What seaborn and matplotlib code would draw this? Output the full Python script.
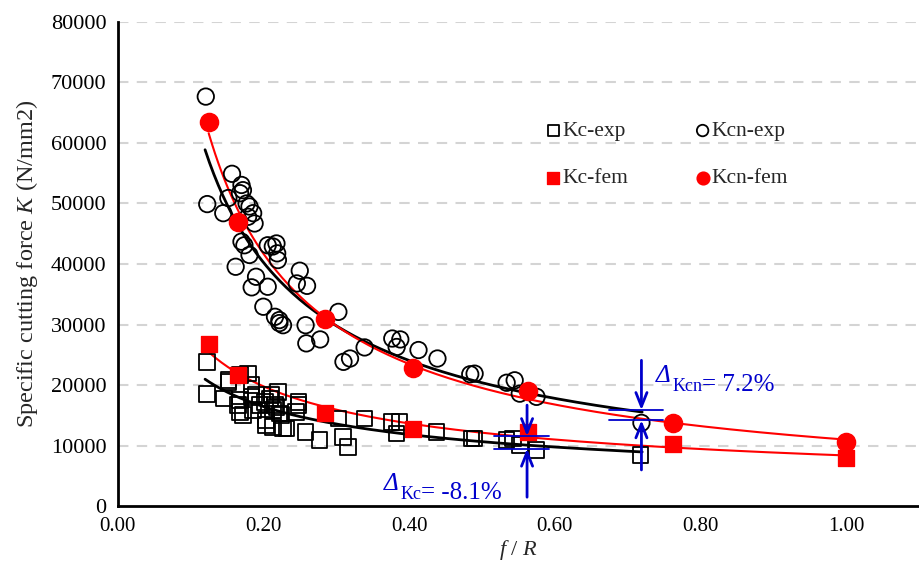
import numpy as np
import pandas as pd
import matplotlib
matplotlib.use("Agg")
import matplotlib.pyplot as plt
import seaborn as sns

# Kcn experimental (f/R, K)
kcn_exp_x = [0.121, 0.123, 0.145, 0.152, 0.157, 0.162, 0.168, 0.170, 0.172, 0.170,
             0.174, 0.177, 0.179, 0.181, 0.181, 0.184, 0.186, 0.188, 0.190, 0.200,
             0.206, 0.206, 0.213, 0.216, 0.218, 0.219, 0.220, 0.222, 0.222, 0.227,
             0.246, 0.250, 0.258, 0.259, 0.260, 0.278, 0.303, 0.310, 0.319, 0.339,
             0.377, 0.383, 0.388, 0.413, 0.439, 0.484, 0.490, 0.534, 0.545, 0.552,
             0.575, 0.719]
kcn_exp_k = [67650, 49900, 48400, 50900, 54900, 39550, 51700, 53060, 52200, 43700,
             43100, 50000, 47800, 49500, 41500, 36150, 48400, 46700, 37900, 32950,
             43100, 36250, 42900, 31290, 43400, 41770, 40660, 30740, 30250, 29900,
             36800, 38900, 29900, 26900, 36400, 27550, 32100, 23850, 24400, 26230,
             27700, 26300, 27550, 25800, 24400, 21800, 21900, 20400, 20800, 18600,
             18070, 13770]

# Kc experimental
kc_exp_x = [0.123, 0.123, 0.146, 0.152, 0.152, 0.165, 0.168, 0.168, 0.168, 0.172,
            0.179, 0.184, 0.184, 0.186, 0.190, 0.195, 0.202, 0.204, 0.204, 0.209,
            0.211, 0.213, 0.213, 0.216, 0.218, 0.220, 0.222, 0.225, 0.227, 0.232,
            0.245, 0.248, 0.248, 0.258, 0.277, 0.303, 0.309, 0.316, 0.339, 0.376,
            0.383, 0.387, 0.438, 0.486, 0.490, 0.534, 0.543, 0.552, 0.575, 0.718]
kc_exp_k = [23850, 18500, 17800, 20550, 20830, 16690, 21650, 17520, 15590, 15040,
            21930, 20000, 18070, 15870, 18350, 16690, 17240, 13390, 14210, 17800,
            18350, 15870, 13110, 16690, 16400, 18900, 15320, 15040, 12840, 12840,
            15590, 17240, 16690, 12280, 10900, 14500, 11450, 9800, 14500, 13940,
            12010, 13940, 12280, 11190, 11190, 10900, 11190, 10080, 9250, 8430]

# FEM results
fem_x = [0.125, 0.165, 0.285, 0.405, 0.563, 0.763, 1.000]
kcn_fem_k = [63400, 47000, 30860, 22800, 19000, 13830, 10630]
kc_fem_k = [26780, 21650, 15320, 12840, 12280, 10250, 8050]

exp_range = (0.12, 0.72)
fem_range = (0.125, 1.0)


def power_fit(x, y, lo, hi):
    b, a = np.polyfit(np.log(x), np.log(y), 1)
    xs = np.linspace(lo, hi, 200)
    return pd.DataFrame({"x": xs, "y": np.exp(a) * xs ** b})


sns.set_style("white")
plt.rcParams["font.family"] = ["Liberation Serif", "DejaVu Serif"]
plt.rcParams["mathtext.fontset"] = "custom"
plt.rcParams["mathtext.rm"] = "Liberation Serif"
plt.rcParams["mathtext.it"] = "Liberation Serif:italic"

fig, ax = plt.subplots(figsize=(9.19, 5.74), dpi=100)
fig.subplots_adjust(left=0.128, right=1.0, bottom=0.118, top=0.962)

for yv in range(10000, 80001, 10000):
    ax.axhline(yv, color="#d4d4d4", lw=1.5, ls=(0, (5, 4)), zorder=0)

# trend lines
sns.lineplot(data=power_fit(kcn_exp_x, kcn_exp_k, *exp_range), x="x", y="y",
             color="black", lw=2, ax=ax, zorder=2)
sns.lineplot(data=power_fit(kc_exp_x, kc_exp_k, *exp_range), x="x", y="y",
             color="black", lw=2, ax=ax, zorder=2)
sns.lineplot(data=power_fit(fem_x, kcn_fem_k, *fem_range), x="x", y="y",
             color="red", lw=1.5, ax=ax, zorder=3)
sns.lineplot(data=power_fit(fem_x, kc_fem_k, *fem_range), x="x", y="y",
             color="red", lw=1.5, ax=ax, zorder=3)

sns.scatterplot(x=kc_exp_x, y=kc_exp_k, marker="s", s=125, facecolor="none",
                edgecolor="black", linewidth=1.3, ax=ax, zorder=4, label="Kc-exp")
sns.scatterplot(x=kcn_exp_x, y=kcn_exp_k, marker="o", s=140, facecolor="none",
                edgecolor="black", linewidth=1.3, ax=ax, zorder=4, label="Kcn-exp")
sns.scatterplot(x=fem_x, y=kc_fem_k, marker="s", s=140, color="red",
                edgecolor="red", ax=ax, zorder=5, label="Kc-fem")
sns.scatterplot(x=fem_x, y=kcn_fem_k, marker="o", s=170, color="red",
                edgecolor="red", ax=ax, zorder=5, label="Kcn-fem")

# difference annotations
blue = "#0000cc"
arrow = dict(arrowstyle="->,head_length=1.0,head_width=0.4", color=blue, lw=2,
             shrinkA=0, shrinkB=0)
for xa, top, bot, hi, lo in [(0.719, 24100, 6000, 15870, 14210),
                             (0.562, 16700, 1500, 11570, 9530)]:
    ax.annotate("", xy=(xa, hi), xytext=(xa, top), arrowprops=arrow, zorder=6)
    ax.annotate("", xy=(xa, lo), xytext=(xa, bot), arrowprops=arrow, zorder=6)
    ax.plot([xa - 0.045, xa + 0.03], [hi, hi], color=blue, lw=1.3, zorder=6)
    ax.plot([xa - 0.045, xa + 0.03], [lo, lo], color=blue, lw=1.3, zorder=6)


def delta_label(x, y, sub, rest):
    t1 = ax.text(x, y, "Δ", color=blue, fontsize=18, fontstyle="italic",
                 va="baseline", ha="left")
    t2 = ax.annotate(sub, xy=(1, 0), xycoords=t1, xytext=(1, -3),
                     textcoords="offset points", color=blue, fontsize=13,
                     va="baseline", ha="left")
    ax.annotate(rest, xy=(1, 0), xycoords=t2, xytext=(0, 3),
                textcoords="offset points", color=blue, fontsize=18,
                va="baseline", ha="left")


delta_label(0.739, 20600, "Kcn", "= 7.2%")
delta_label(0.366, 2700, "Kc", "= -8.1%")

ax.set_xlim(0, 1.1)
ax.set_ylim(0, 80000)
ax.set_xticks(np.arange(0, 1.01, 0.2))
ax.set_xticks(np.arange(0.1, 1.1, 0.2), minor=True)
ax.set_yticks(np.arange(0, 80001, 10000))
ax.set_yticks(np.arange(5000, 80000, 10000), minor=True)
ax.set_xticklabels([f"{v:.2f}" for v in np.arange(0, 1.01, 0.2)])
ax.tick_params(axis="both", which="major", direction="in", length=6, width=1.5,
               colors="black")
ax.tick_params(axis="x", which="major", labelsize=15, pad=8)
ax.tick_params(axis="y", which="major", labelsize=16, pad=8)
ax.tick_params(axis="both", which="minor", direction="in", length=5, width=1.5)
for side in ["top", "right"]:
    ax.spines[side].set_visible(False)
for side in ["left", "bottom"]:
    ax.spines[side].set_linewidth(2)
    ax.spines[side].set_color("black")

ax.set_xlabel(r"$f$ / $R$", fontsize=16, labelpad=1)
ax.set_ylabel(r"Specific cutting force $K$ (N/mm2)", fontsize=17.5, labelpad=8)

handles, labels = ax.get_legend_handles_labels()
order = [0, 2, 1, 3]
ax.legend([handles[i] for i in order], [labels[i] for i in order], ncol=2,
          frameon=False, fontsize=15.5, loc="upper left",
          bbox_to_anchor=(0.4925, 0.835), handletextpad=-0.57, columnspacing=2.45,
          labelspacing=1.25, markerscale=0.7)

fig.savefig("out.png", dpi=100)
